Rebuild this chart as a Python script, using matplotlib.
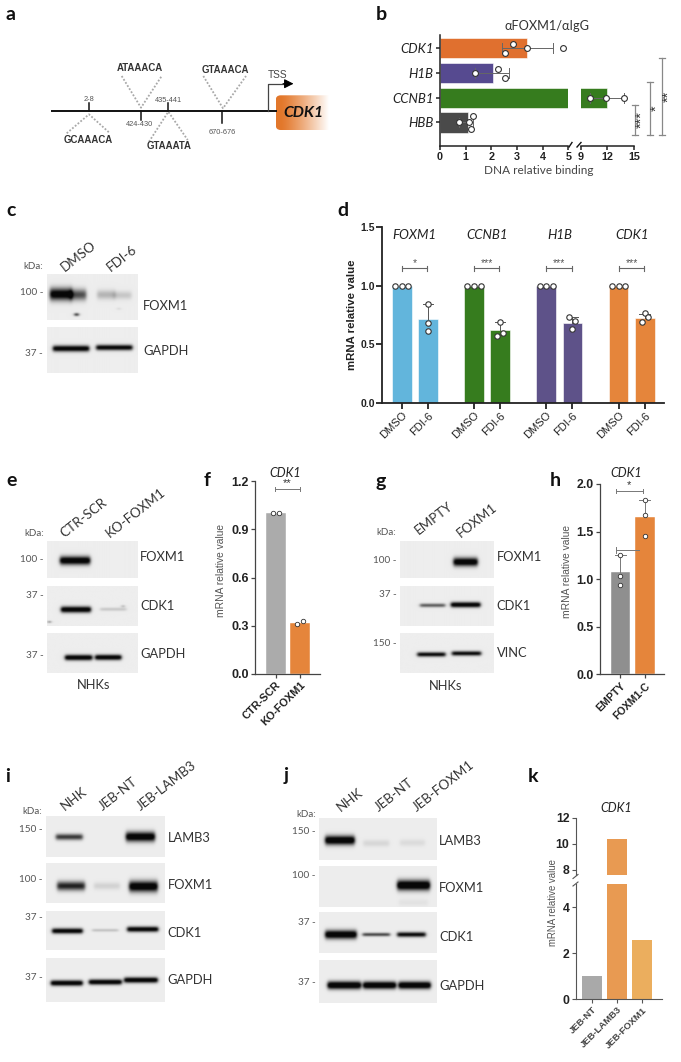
import numpy as np
import matplotlib
matplotlib.use("Agg")
import matplotlib.pyplot as plt
from matplotlib.patches import FancyBboxPatch

W, H = 681, 1062
ARIAL = "Liberation Sans"
CAL = "Lato"
DARK = "#222222"
GREY = "#555555"
ORANGE = "#E5853B"
BLUE = "#62B5DC"
GREEN = "#367C1E"
PURPLE = "#5E5289"

# ---- panel b
b_genes = ["CDK1", "H1B", "CCNB1", "HBB"]
b_values = [3.4, 2.05, 11.9, 1.1]
b_colors = ["#E0702F", "#564A90", GREEN, "#4A4A4A"]
b_dots_x = [[2.85, 3.4, 2.55, 4.8], [2.25, 1.35, 2.55], [10.05, 11.8, 13.9], [1.27, 1.13, 0.75, 1.22]]
b_dots_off = [[-0.18, 0, 0.18, 0], [-0.18, 0, 0.18], [0, 0, 0], [-0.25, 0, 0, 0.25]]
b_err = [(2.4, 4.4), (1.35, 2.7), (10.05, 13.9), (0.75, 1.27)]

# ---- panel d
d_genes = ["FOXM1", "CCNB1", "H1B", "CDK1"]
d_pos = [0, 1, 2.76, 3.76, 5.53, 6.53, 8.29, 9.29]
d_labels = ["DMSO", "FDI-6"] * 4
d_values = [1.0, 0.715, 1.0, 0.62, 1.0, 0.68, 1.0, 0.725]
d_colors = [BLUE, BLUE, GREEN, GREEN, PURPLE, PURPLE, ORANGE, ORANGE]
d_fdi_dots = [[0.84, 0.68, 0.615], [0.69, 0.6, 0.57], [0.73, 0.695, 0.63], [0.77, 0.73, 0.69]]
d_fdi_off = [[0, 0, 0], [0, 0.11, -0.11], [-0.13, 0.11, 0], [0, 0.11, -0.11]]
d_fdi_top = [0.84, 0.69, 0.73, 0.76]
d_stars = ["*", "***", "***", "***"]

# ---- panel f
f_labels = ["CTR-SCR", "KO-FOXM1"]
f_values = [1.0, 0.32]
f_colors = ["#ABABAB", ORANGE]
f_dots = [[1.0, 1.0], [0.31, 0.33]]

# ---- panel h
h_labels = ["EMPTY", "FOXM1-C"]
h_values = [1.07, 1.65]
h_colors = ["#8F8F8F", ORANGE]
h_dots = [[1.25, 1.03, 0.94], [1.83, 1.67, 1.45]]

# ---- panel k
k_labels = ["JEB-NT", "JEB-LAMB3", "JEB-FOXM1"]
k_values = [1.0, 10.35, 2.55]
k_colors = ["#A9A9A9", "#E89A52", "#EBAE5E"]

# ---- blots: panel box, then bands (x0, x1, y, thickness, darkness)
blots = [
    ((47.3, 137.3, 274, 320), [(50, 72, 294, 6.0, 1.15), (70, 86, 294.5, 5.5, 0.7), (97, 115, 294.5, 4.5, 0.25), (113, 131, 295, 4, 0.17), (74.5, 78.5, 314.3, 1.5, 0.9), (117, 120, 308.5, 1.1, 0.12)]),
    ((47.3, 137.3, 326.7, 372.7), [(53, 89, 348, 3.0, 1.15), (96, 132, 347, 2.7, 1.1)]),
    ((47.3, 137.7, 540.7, 577.7), [(60, 90, 560, 4.2, 1.2)]),
    ((47.3, 137.7, 586.3, 625.7), [(61, 90.7, 609.3, 3.0, 1.2), (100, 126, 609, 1.6, 0.17), (48.5, 50.5, 621.5, 1.0, 0.75), (121.5, 124, 606, 1.1, 0.35)]),
    ((47.3, 137.7, 633.7, 673), [(65, 92, 657.7, 2.7, 1.2), (95, 121, 657.5, 2.6, 1.2)]),
    ((400.3, 493.7, 541.3, 578.3), [(453.3, 477.3, 562, 4.2, 1.2)]),
    ((400.3, 493.7, 585.7, 625.7), [(420, 445, 604.8, 1.8, 0.65), (450.7, 480, 604.2, 2.6, 1.2)]),
    ((400.3, 493.7, 633.3, 672.7), [(417.3, 445.3, 654.2, 2.2, 1.05), (451.7, 480.7, 653.2, 2.2, 1.05)]),
    ((46.3, 165, 816, 856.7), [(56, 82.7, 836.7, 3.0, 0.8), (126, 155, 836.5, 4.8, 1.2)]),
    ((46.3, 165, 863.3, 903.3), [(57.3, 85, 886, 4.5, 0.9), (94, 120, 886, 3.6, 0.12), (129.3, 157.7, 886.5, 5.4, 1.2)]),
    ((46.3, 165, 911, 950), [(52.3, 82.7, 930.7, 2.6, 1.15), (92.3, 118.3, 930, 1.4, 0.2), (127.3, 158.3, 929, 2.6, 1.15)]),
    ((46.3, 165, 957.7, 1001.7), [(51, 82.7, 982.5, 2.7, 1.2), (89, 121.7, 981.5, 2.6, 1.2), (124.3, 157.7, 979.5, 2.7, 1.2)]),
    ((319.3, 437.3, 818, 860), [(325.3, 354.7, 840, 4.5, 1.25), (363.3, 389.3, 843, 3.4, 0.1), (400, 425, 842.5, 3.4, 0.08)]),
    ((319.3, 437.3, 865.7, 906.7), [(397.3, 430, 884.7, 5.0, 1.3), (399, 428, 902, 3.6, 0.05)]),
    ((319.3, 437.3, 912.7, 953.3), [(325.3, 356.7, 935, 4.2, 1.25), (362.7, 390, 935, 1.7, 0.75), (397.3, 425.7, 935, 2.4, 1.05)]),
    ((319.3, 437.3, 960, 1002.7), [(327.7, 361, 985, 3.8, 1.3), (363.3, 396, 985, 3.6, 1.3), (398.7, 430.7, 985, 3.6, 1.3)]),
]

# blot annotation: (text, x, y)
kda_left = [("kDa:", 33, 266.7), ("kDa:", 34, 533), ("kDa:", 386.7, 532.7), ("kDa:", 32, 812), ("kDa:", 306, 814.3)]
mw_marks = [("100 -", 43, 292.7), ("37 -", 43, 353), ("100 -", 44, 559), ("37 -", 44, 596), ("37 -", 44, 655),
            ("100 -", 396.7, 560.7), ("37 -", 396.7, 594.7), ("150 -", 396.7, 643.3),
            ("150 -", 42.3, 829), ("100 -", 42.3, 880), ("37 -", 42.3, 918), ("37 -", 42.3, 977.7),
            ("150 -", 316, 831.7), ("100 -", 316, 875.3), ("37 -", 316, 922.7), ("37 -", 316, 982.7)]
gene_marks = [("FOXM1", 143, 306), ("GAPDH", 143, 351), ("FOXM1", 140, 557), ("CDK1", 140, 606), ("GAPDH", 140, 653.7),
              ("FOXM1", 496.7, 556.7), ("CDK1", 496.7, 606), ("VINC", 496.7, 653),
              ("LAMB3", 167.7, 838), ("FOXM1", 167.7, 885), ("CDK1", 167.7, 932.7), ("GAPDH", 167.7, 980),
              ("LAMB3", 439.3, 840.7), ("FOXM1", 439.3, 888.3), ("CDK1", 439.3, 937.3), ("GAPDH", 439.3, 985.7)]
lane_marks = [("DMSO", 66, 274), ("FDI-6", 112, 274), ("CTR-SCR", 66, 540), ("KO-FOXM1", 111, 540),
              ("EMPTY", 420, 537), ("FOXM1", 462, 540),
              ("NHK", 66, 813), ("JEB-NT", 104, 813), ("JEB-LAMB3", 142, 813),
              ("NHK", 342, 814), ("JEB-NT", 380, 814), ("JEB-FOXM1", 418, 814)]
panel_letters = [("a", 11, 15), ("b", 381.7, 15), ("c", 11, 210.7), ("d", 343, 210), ("e", 11.7, 480.7), ("f", 206.7, 480),
                 ("g", 380.7, 481), ("h", 555, 480), ("i", 8, 776), ("j", 285.7, 776), ("k", 532.7, 776.7)]

# promoter schematic
promoter_ticks = [(89, 103), (140.7, 120), (167.7, 103), (222, 123)]
promoter_pos = [("2-8", 89, 99.3), ("424-430", 140, 124.7), ("435-441", 168.7, 100), ("670-676", 222.7, 133)]
motifs = [("GCAAACA", 88.7, 140, (66.7, 133.3), (89, 114.3), (110, 133.3)),
          ("ATAAACA", 140.3, 68.3, (121.7, 76), (141, 107.7), (161.7, 76)),
          ("GTAAATA", 168.7, 146, (149, 141.7), (168.3, 111.7), (187.7, 140)),
          ("GTAAACA", 225, 69.7, (203.3, 76), (223, 108.3), (246, 76))]

fig = plt.figure(figsize=(W / 100, H / 100), dpi=100, facecolor="white")


def px_axes(x0, ytop, x1, ybot, **kw):
    a = fig.add_axes([x0 / W, 1 - ybot / H, (x1 - x0) / W, (ybot - ytop) / H], **kw)
    a.patch.set_alpha(0)
    return a


def style(a, lw=1.0, color=DARK, size=8, tick=3, bold=True):
    a.spines["top"].set_visible(False)
    a.spines["right"].set_visible(False)
    for s in ["left", "bottom"]:
        a.spines[s].set_linewidth(lw)
        a.spines[s].set_color(color)
    a.tick_params(length=tick, width=lw, color=color, labelsize=size, pad=1.5, labelcolor=DARK)
    for t in a.get_xticklabels() + a.get_yticklabels():
        t.set_fontfamily(ARIAL)
        t.set_fontweight("bold" if bold else "normal")


def bracket(a, x0, x1, y, cap, color="#666666", lw=0.8):
    a.plot([x0, x1], [y, y], color=color, lw=lw)
    a.plot([x0, x0], [y - cap, y + cap], color=color, lw=lw)
    a.plot([x1, x1], [y - cap, y + cap], color=color, lw=lw)


ov = fig.add_axes([0, 0, 1, 1])
ov.patch.set_alpha(0)
ov.axis("off")

# ---------- blots
for (x0, x1, y0, y1), bands in blots:
    xs = np.arange(x0, x1, 0.5)
    ys = np.arange(y0, y1, 0.5)
    X, Y = np.meshgrid(xs, ys)
    D = np.zeros_like(X)
    for bx0, bx1, by, th, dk in bands:
        ramp = 0.5 * (np.tanh((X - bx0) / 1.8) - np.tanh((X - bx1) / 1.8))
        D += dk * ramp * np.exp(-((Y - by) / th) ** 2)
    img = 0.93 - 0.9 * np.clip(D, 0, 1)
    ov.imshow(img, extent=(x0, x1, y1, y0), cmap="gray", vmin=0, vmax=1, aspect="auto", interpolation="bicubic")

for t, x, y in kda_left:
    ov.text(x, y, t, fontsize=7, color=GREY, family=CAL, ha="center", va="center")
for t, x, y in mw_marks:
    ov.text(x, y, t, fontsize=7.2, color=GREY, family=CAL, ha="right", va="center")
for t, x, y in gene_marks:
    ov.text(x, y, t, fontsize=9.3, color="#333333", family=CAL, ha="left", va="center")
for t, x, y in lane_marks:
    ov.text(x, y, t, fontsize=9.6, color="#333333", family=CAL, rotation=38, ha="left", va="bottom", rotation_mode="anchor")
ov.text(94, 685, "NHKs", fontsize=9.3, color="#333333", family=CAL, ha="center", va="center")
ov.text(446, 686, "NHKs", fontsize=9.3, color="#333333", family=CAL, ha="center", va="center")
for t, x, y in panel_letters:
    ov.text(x, y, t, fontsize=14, fontweight="bold", color="#111111", family=CAL, ha="center", va="center")

# ---------- schematic
ov.plot([51, 277], [111, 111], color="#111111", lw=1.4, solid_capstyle="butt")
for x, y in promoter_ticks:
    ov.plot([x, x], [111, y], color="#111111", lw=1.1)
for t, x, y in promoter_pos:
    ov.text(x, y, t, fontsize=5.3, color=GREY, family=ARIAL, ha="center", va="center")
for t, x, y, a_, b_, c_ in motifs:
    ov.plot([a_[0], b_[0], c_[0]], [a_[1], b_[1], c_[1]], color="#A8A8A8", lw=1.3, ls=(0, (1, 1)))
    ov.text(x, y, t, fontsize=6.9, fontweight="bold", color="#333333", family=ARIAL, ha="center", va="center")
ov.plot([267.7, 267.7, 286], [111, 83.7, 83.7], color="#444444", lw=0.9)
ov.annotate("", xy=(293.5, 83.7), xytext=(283, 83.7),
            arrowprops=dict(arrowstyle="-|>,head_length=0.55,head_width=0.28", color="black", lw=0.8, shrinkA=0, shrinkB=0))
ov.text(277.7, 74.7, "TSS", fontsize=7.3, color="#444444", family=ARIAL, ha="center", va="center")
grad = np.clip((np.linspace(0, 1, 160) - 0.1) / 0.9, 0, 1)[None, :, None]
c0, c1 = np.array([0.89, 0.47, 0.17]), np.array([1.0, 1.0, 1.0])
rgb = c0[None, None, :] * (1 - grad ** 1.2) + c1[None, None, :] * grad ** 1.2
box_im = ov.imshow(rgb, extent=(275.7, 328, 130, 95.3), aspect="auto", interpolation="bilinear")
box_clip = FancyBboxPatch((275.7, 95.3), 60, 34.7, boxstyle="round,pad=0,rounding_size=5", fc="none", ec="none")
ov.add_patch(box_clip)
box_im.set_clip_path(box_clip)
ov.text(303, 112.7, "CDK1", fontsize=11.3, fontweight="bold", style="italic", color="#111111", family=CAL, ha="center", va="center")
ov.set_xlim(0, W)
ov.set_ylim(H, 0)

DOT = dict(marker="o", mfc="white", mec="#333333", mew=0.8, ms=3.9, ls="none", zorder=5)

# ---------- panel b
b1 = px_axes(440, 35, 568.3, 145.7)
b2 = px_axes(580.7, 35, 634.3, 145.7)
ypos = np.arange(4)
b1.set_ylim(3.94, -0.54)
b2.set_ylim(3.94, -0.54)
b1.set_xlim(0, 5)
b2.set_xlim(9, 15)
b1.barh(ypos, b_values, height=0.82, color=b_colors, edgecolor="white", lw=0.4)
b2.barh(2, b_values[2], height=0.82, color=b_colors[2], edgecolor="white", lw=0.4)
for i in range(4):
    ax_ = b2 if i == 2 else b1
    ax_.plot(b_err[i], [i, i], color="#666666", lw=0.7, zorder=4)
    for e in b_err[i]:
        ax_.plot([e, e], [i - 0.2, i + 0.2], color="#666666", lw=0.7, zorder=4)
    ax_.plot(b_dots_x[i], np.array(b_dots_off[i]) + i, **{**DOT, "ms": 4.2})
b1.set_xticks([0, 1, 2, 3, 4, 5])
b1.set_yticks(ypos)
b1.set_yticklabels(b_genes)
b2.set_xticks([9, 12, 15])
b2.set_yticks([])
style(b1, lw=1.1, size=7.8)
style(b2, lw=1.1, size=7.8)
for t in b1.get_yticklabels():
    t.set_fontfamily(CAL)
    t.set_fontweight("normal")
    t.set_fontsize(9.5)
    t.set_fontstyle("italic")
b2.spines["left"].set_visible(False)
ov.plot([569, 572], [147, 142.5], color="#111111", lw=1.0)
ov.plot([577, 581], [147, 142.5], color="#111111", lw=1.0)
ov.text(539, 170, "DNA relative binding", fontsize=8.5, color="#444444", family=CAL, ha="center", va="center")
ov.text(547, 26, "αFOXM1/αIgG", fontsize=9.2, color="#333333", family=CAL, ha="center", va="center")
for x, top, lab in [(635, 105, "***"), (650, 82, "*"), (662, 58, "**")]:
    ov.plot([x, x], [top, 135], color="#888888", lw=0.9)
    ov.plot([x - 3, x + 3], [top, top], color="#888888", lw=0.9)
    ov.plot([x - 3, x + 3], [135, 135], color="#888888", lw=0.9)
    ov.text(x + 7, (top + 135) / 2, lab, fontsize=10.5, rotation=90, color="#333333",
            family=ARIAL, ha="center", va="center")

# ---------- panel d
d = px_axes(382.3, 227.3, 664.3, 402.7)
d.set_xlim(-0.74, 10.04)
d.set_ylim(0, 1.5)
d.bar(d_pos, d_values, width=0.76, color=d_colors, edgecolor="white", lw=0.4)
for g in range(4):
    p0, p1 = d_pos[2 * g], d_pos[2 * g + 1]
    d.plot([p0 - 0.26, p0, p0 + 0.26], [1, 1, 1], **DOT)
    top = d_fdi_top[g]
    d.plot([p1, p1], [d_values[2 * g + 1], top], color="#555555", lw=0.7, zorder=3)
    d.plot([p1 - 0.2, p1 + 0.2], [top, top], color="#555555", lw=0.7, zorder=3)
    d.plot(p1 + np.array(d_fdi_off[g]), d_fdi_dots[g], **DOT)
    bracket(d, p0, p1 - 0.02, 1.15, 0.023)
    d.text((p0 + p1) / 2, 1.19, d_stars[g], fontsize=7.5, color="#555555", family=ARIAL, ha="center", va="center")
    d.text((p0 + p1) / 2, 1.435, d_genes[g], fontsize=9.5, style="italic", color="#222222", family=CAL, ha="center", va="center")
d.set_xticks(d_pos)
d.set_xticklabels(d_labels, rotation=45, ha="right", rotation_mode="anchor")
d.set_yticks([0, 0.5, 1.0, 1.5])
d.set_yticklabels(["0.0", "0.5", "1.0", "1.5"])
style(d, lw=1.3, size=7.5, tick=4)
for t in d.get_xticklabels():
    t.set_fontweight("normal")
    t.set_fontsize(8)
ov.text(352.3, 315, "mRNA relative value", fontsize=8.2, fontweight="bold", rotation=90, color="#222222", family=ARIAL, ha="center", va="center")

# ---------- panel f
f = px_axes(255, 481, 320, 674)
f.set_xlim(-0.84, 1.8)
f.set_ylim(0, 1.2)
f.bar([0, 1], f_values, width=0.81, color=f_colors, edgecolor="white", lw=0.3)
for i in range(2):
    f.plot([i - 0.12, i + 0.12], f_dots[i], **{**DOT, "ms": 3.2, "mew": 0.6})
bracket(f, -0.03, 0.97, 1.15, 0.013, color="#777777", lw=0.7)
f.text(0.47, 1.185, "**", fontsize=8, color="#333333", family=ARIAL, ha="center", va="center")
f.set_xticks([0, 1])
f.set_xticklabels(f_labels, rotation=45, ha="right", rotation_mode="anchor")
f.set_yticks([0, 0.3, 0.6, 0.9, 1.2])
f.set_yticklabels(["0.0", "0.3", "0.6", "0.9", "1.2"])
style(f, lw=0.9, color="#444444", size=9)
for t in f.get_xticklabels():
    t.set_fontsize(7.8)
    t.set_fontweight("bold")
ov.text(285.7, 473, "CDK1", fontsize=9, style="italic", color="#222222", family=CAL, ha="center", va="center")
ov.text(221, 570.7, "mRNA relative value", fontsize=7.4, rotation=90, color="#555555", family=ARIAL, ha="center", va="center")

# ---------- panel h
h = px_axes(600, 484, 664, 674.3)
h.set_xlim(-0.84, 1.79)
h.set_ylim(0, 2.0)
h.bar([0, 1], h_values, width=0.81, color=h_colors, edgecolor="white", lw=0.3)
for i in range(2):
    top = max(h_dots[i])
    h.plot([i, i], [h_values[i], top], color="#777777", lw=0.7, zorder=3)
    h.plot([i - 0.22, i + 0.22], [top, top], color="#777777", lw=0.7, zorder=3)
    h.plot([i, i, i], h_dots[i], **{**DOT, "ms": 3.2, "mew": 0.6})
h.plot([-0.18, -0.18, -0.18], [1.28, 1.31, 1.34], color="#777777", lw=0.7)
h.plot([-0.18, 0.77], [1.31, 1.31], color="#777777", lw=0.7)
bracket(h, -0.18, 0.93, 1.93, 0.02, color="#777777", lw=0.7)
h.text(0.33, 1.99, "*", fontsize=8, color="#333333", family=ARIAL, ha="center", va="center", clip_on=False)
h.set_xticks([0, 1])
h.set_xticklabels(h_labels, rotation=45, ha="right", rotation_mode="anchor")
h.set_yticks([0, 0.5, 1.0, 1.5, 2.0])
h.set_yticklabels(["0.0", "0.5", "1.0", "1.5", "2.0"])
style(h, lw=0.9, color="#444444", size=8.8)
for t in h.get_xticklabels():
    t.set_fontsize(7.6)
    t.set_fontweight("bold")
ov.text(626.7, 473, "CDK1", fontsize=9, style="italic", color="#222222", family=CAL, ha="center", va="center")
ov.text(567.3, 571, "mRNA relative value", fontsize=7.4, rotation=90, color="#555555", family=ARIAL, ha="center", va="center")

# ---------- panel k
k_lo = px_axes(575.7, 884, 661.7, 999)
k_hi = px_axes(575.7, 817.7, 661.7, 875)
k_lo.set_ylim(0, 5)
k_hi.set_ylim(7.6, 12)
xk = np.arange(3)
for a_ in (k_lo, k_hi):
    a_.set_xlim(-0.66, 2.8)
    a_.bar(xk, k_values, width=0.82, color=k_colors)
k_hi.set_xticks([])
k_hi.set_yticks([8, 10, 12])
k_hi.set_yticklabels(["8", "10", "12"])
k_lo.set_yticks([0, 2, 4])
k_lo.set_yticklabels(["0", "2", "4"])
k_lo.set_xticks(xk)
k_lo.set_xticklabels(k_labels, rotation=45, ha="right", rotation_mode="anchor")
style(k_lo, lw=0.8, color="#555555", size=8.8)
style(k_hi, lw=0.8, color="#555555", size=8.8)
k_hi.spines["bottom"].set_visible(False)
for t in k_lo.get_xticklabels():
    t.set_fontsize(6.8)
    t.set_fontweight("bold")
    t.set_color("#444444")
ov.plot([573, 578], [878.5, 874.5], color="#555555", lw=0.8)
ov.plot([573, 578], [886, 882], color="#555555", lw=0.8)
ov.text(616, 807.7, "CDK1", fontsize=9, style="italic", color="#222222", family=CAL, ha="center", va="center")
ov.text(552.7, 902.7, "mRNA relative value", fontsize=6.9, rotation=90, color="#555555", family=ARIAL, ha="center", va="center")

fig.savefig("out.png", dpi=100)
